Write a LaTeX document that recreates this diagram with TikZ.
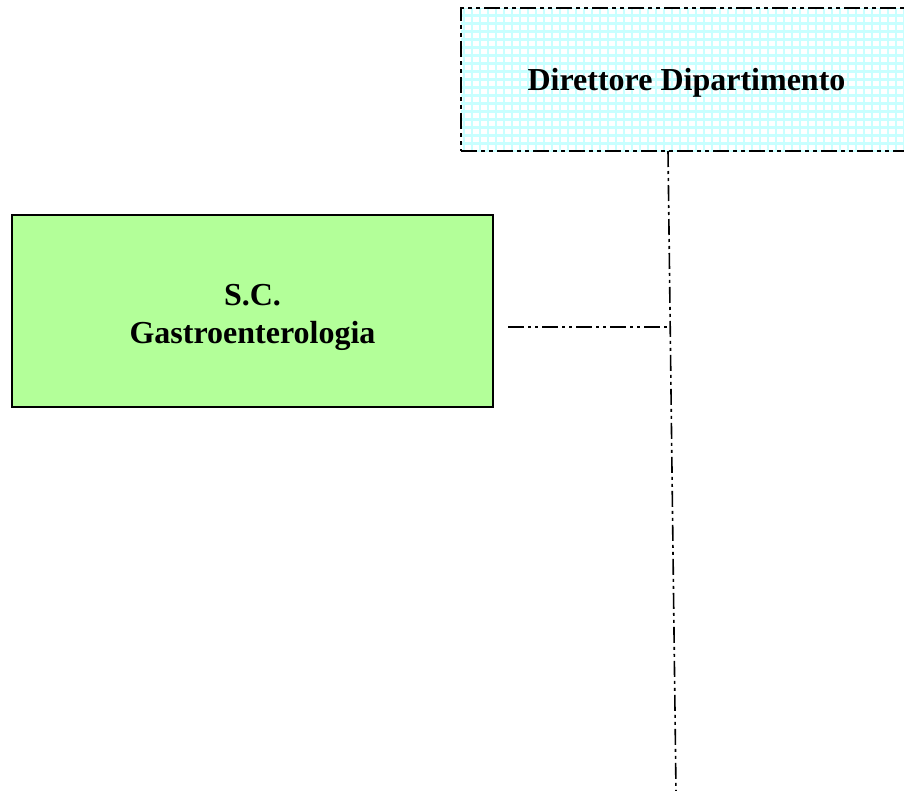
\documentclass[tikz,border=0pt]{standalone}
\usepackage{fontspec}
\setmainfont{Liberation Serif}
\definecolor{boxgreen}{HTML}{B3FF99}
\definecolor{gridcyan}{HTML}{C8FFFF}
\begin{document}
\begin{tikzpicture}[x=1pt,y=-1pt,
  lbl/.style={font=\fontsize{32}{38}\selectfont\bfseries, align=center, text=black},
  dirbox/.style={draw=black, line width=2pt, fill=white,
    dash pattern=on 16pt off 4pt on 4pt off 4pt on 4pt off 4pt,
    minimum width=470pt, minimum height=143pt, inner sep=0pt,
    path picture={\draw[gridcyan, solid, line width=2.8pt, step=8pt]
      ([shift={(-8pt,-8pt)}]path picture bounding box.south west) grid ([shift={(8pt,8pt)}]path picture bounding box.north east);}},
  unitbox/.style={draw=black, line width=1.5pt, fill=boxgreen,
    minimum width=481pt, minimum height=192pt, inner sep=0pt},
  conn/.style={draw=black, line width=1.6pt,
    dash pattern=on 16pt off 4pt on 3pt off 4pt on 3pt off 4pt}
]
\useasboundingbox (0,0) rectangle (904,790);
\node[dirbox] (dir) at (696,79.5) {};
\node[lbl] (dirtext) at (686.5,82.5) {Direttore Dipartimento};
\node[unitbox, label={[lbl, yshift=-6pt]center:{S.C.\\Gastroenterologia}}] (gastro) at (252.5,311) {};
\coordinate (top) at (668,151);
\coordinate (junc) at (670.2,327);
\coordinate (bot) at (676,792);
\coordinate (hstart) at (508,327);
\draw[conn] (top) -- (junc) -- (bot);
\draw[conn] (hstart) -- (junc);
\end{tikzpicture}
\end{document}
